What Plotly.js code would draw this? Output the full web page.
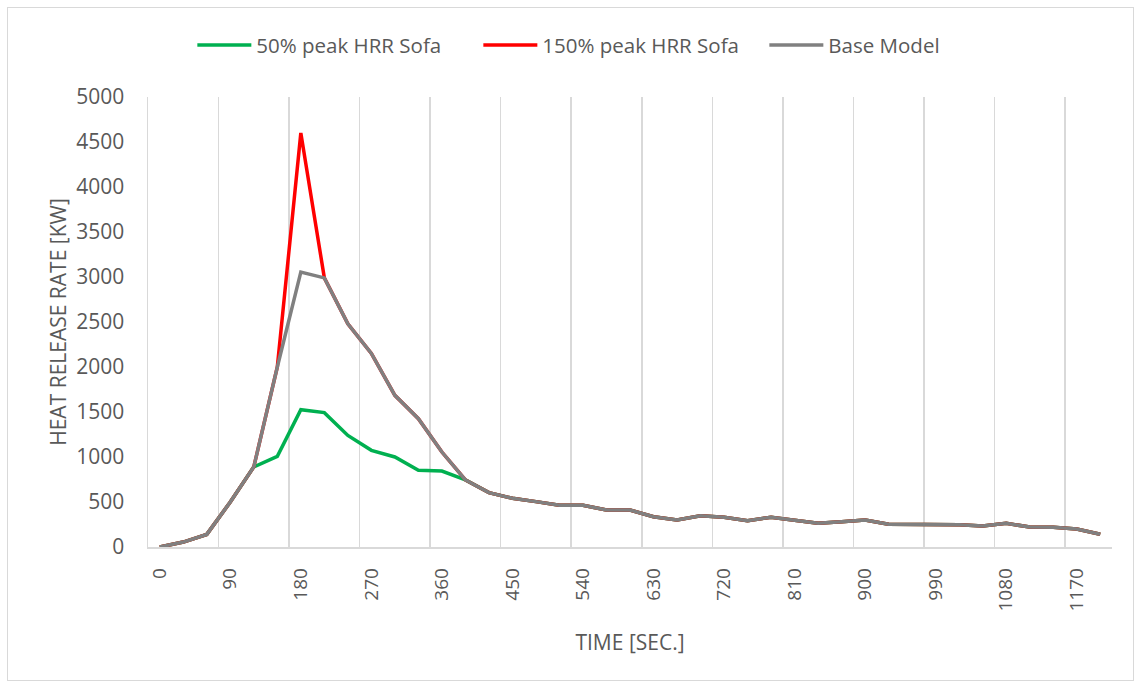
<!DOCTYPE html>
<html>
<head>
<meta charset="utf-8">
<script src="https://cdn.plot.ly/plotly-3.0.1.min.js"></script>
<style>
  body { margin: 0; background: #fff; }
  #wrap { position: relative; width: 1141px; height: 684px; }
  #chart { width: 1141px; height: 684px; }
  #frame { position: absolute; left: 7px; top: 7px; width: 1125px; height: 672px;
           border: 1px solid #d9d9d9; pointer-events: none; }
</style>
</head>
<body>
<div id="wrap">
  <div id="chart"></div>
  <div id="frame"></div>
</div>
<script>
// time steps [sec] and heat release rate [kW]
var time = [0, 30, 60, 90, 120, 150, 180, 210, 240, 270, 300, 330, 360, 390, 420, 450, 480, 510, 540, 570,
            600, 630, 660, 690, 720, 750, 780, 810, 840, 870, 900, 930, 960, 990, 1020, 1050, 1080, 1110, 1140, 1170, 1200];

var hrrHalf = [0, 55, 140, 500, 890, 1007, 1526, 1493, 1240, 1074, 1000, 852, 844, 745, 604, 541, 504, 463, 463, 411,
               411, 337, 300, 348, 330, 293, 330, 300, 263, 281, 300, 252, 248, 248, 248, 233, 263, 222, 219, 200, 141];

var hrrOneHalf = [0, 55, 140, 500, 890, 2000, 4600, 2990, 2480, 2150, 1685, 1425, 1055, 745, 604, 541, 504, 463, 463, 411,
                  411, 337, 300, 348, 330, 293, 330, 300, 263, 281, 300, 252, 248, 248, 248, 233, 263, 222, 219, 200, 141];

var hrrBase = [0, 55, 140, 500, 890, 2000, 3055, 2990, 2480, 2150, 1685, 1425, 1055, 745, 604, 541, 504, 463, 463, 411,
               411, 337, 300, 348, 330, 293, 330, 300, 263, 281, 300, 252, 248, 248, 248, 233, 263, 222, 219, 200, 141];

var timeLabels = [0, 90, 180, 270, 360, 450, 540, 630, 720, 810, 900, 990, 1080, 1170];
// category boundaries where the vertical gridlines sit
var gridAt = [-15, 75, 165, 255, 345, 435, 525, 615, 705, 795, 885, 975, 1065, 1155];

var font = "'Open Sans', 'Liberation Sans', sans-serif";
var textGray = '#595959';

var traces = [
  { x: time, y: hrrHalf, name: '50% peak HRR Sofa', type: 'scatter', mode: 'lines',
    line: { color: '#00b050', width: 3.5 } },
  { x: time, y: hrrOneHalf, name: '150% peak HRR Sofa', type: 'scatter', mode: 'lines',
    line: { color: '#ff0000', width: 3.5 } },
  { x: time, y: hrrBase, name: 'Base Model', type: 'scatter', mode: 'lines',
    line: { color: '#808080', width: 3.5 } },
  // invisible trace to carry the gridline axis
  { x: gridAt, y: gridAt.map(function () { return null; }), xaxis: 'x2', showlegend: false,
    hoverinfo: 'skip', type: 'scatter', mode: 'lines' }
];

var layout = {
  width: 1141,
  height: 684,
  margin: { l: 148, r: 29, t: 97, b: 137 },
  paper_bgcolor: '#fff',
  plot_bgcolor: '#fff',
  font: { family: font, color: textGray, size: 20 },
  showlegend: true,
  legend: {
    orientation: 'h',
    x: 0.046, xanchor: 'left',
    y: 1.115, yanchor: 'middle',
    font: { family: font, size: 20.5, color: textGray },
    itemwidth: 54,
    entrywidth: 217,
    tracegroupgap: 0
  },
  xaxis: {
    range: [-15, 1215],
    tickmode: 'array',
    tickvals: timeLabels,
    ticktext: timeLabels.map(String),
    tickangle: -90,
    ticks: '',
    ticklabelstandoff: 12,
    tickfont: { family: font, size: 19, color: textGray },
    showgrid: false,
    zeroline: false,
    showline: true,
    linecolor: '#d9d9d9',
    linewidth: 1.5,
    title: { text: 'TIME [SEC.]', font: { family: font, size: 21, color: textGray }, standoff: 24 }
  },
  xaxis2: {
    overlaying: 'x',
    matches: 'x',
    range: [-15, 1215],
    tickmode: 'array',
    tickvals: gridAt,
    showticklabels: false,
    ticks: '',
    showgrid: true,
    gridcolor: '#d9d9d9',
    gridwidth: 1.5,
    zeroline: false
  },
  yaxis: {
    range: [0, 5000],
    dtick: 500,
    tick0: 0,
    ticks: '',
    ticklabelstandoff: 18,
    tickfont: { family: font, size: 21, color: textGray },
    showgrid: false,
    zeroline: false,
    showline: true,
    linecolor: '#d9d9d9',
    linewidth: 1.5,
    title: { text: 'HEAT RELEASE RATE [KW]', font: { family: font, size: 21, color: textGray }, standoff: 4 }
  }
};

Plotly.newPlot('chart', traces, layout, { displayModeBar: false, staticPlot: true });
</script>
</body>
</html>
